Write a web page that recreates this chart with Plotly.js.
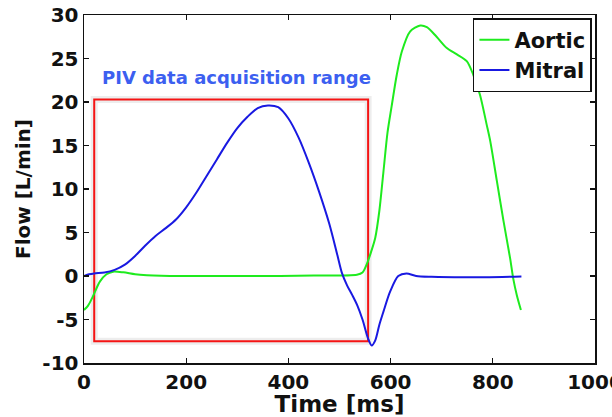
<!DOCTYPE html>
<html>
<head>
<meta charset="utf-8">
<script src="https://cdn.plot.ly/plotly-3.0.1.min.js"></script>
<style>html,body{margin:0;padding:0;background:#fff;}</style>
</head>
<body>
<div id="chart" style="width:612px;height:417px;"></div>
<script>
// Aortic flow (green)
const aorticTime = [0, 8, 17, 31, 44, 57, 77, 100, 123, 188, 300, 384, 450, 534, 545, 553, 562, 570, 578, 586, 594, 602, 612, 622, 638, 658, 671, 690, 710, 729, 749, 762, 775, 788, 795, 808, 821, 834, 840, 847, 855];
const aorticFlow = [-3.9, -3.4, -2.4, -0.65, 0.2, 0.5, 0.42, 0.2, 0.1, 0.0, 0.0, 0.0, 0.05, 0.15, 0.4, 1.3, 2.8, 4.4, 7.5, 12.0, 16.5, 19.5, 23.1, 25.8, 28.1, 28.8, 28.6, 27.5, 26.2, 25.5, 24.7, 23.1, 20.8, 17.4, 15.5, 10.9, 6.3, 2.0, -0.3, -2.2, -3.9];

// Mitral flow (blue)
const mitralTime = [0, 10, 20, 40, 60, 80, 100, 120, 140, 160, 180, 200, 220, 240, 260, 280, 300, 320, 340, 360, 380, 400, 420, 440, 460, 480, 495, 505, 515, 525, 535, 545, 556, 563, 570, 578, 586, 599, 615, 631, 650, 680, 750, 856];
const mitralFlow = [0.0, 0.2, 0.3, 0.4, 0.7, 1.3, 2.3, 3.5, 4.6, 5.5, 6.5, 7.9, 9.6, 11.5, 13.4, 15.3, 17.0, 18.3, 19.3, 19.6, 19.4, 18.1, 15.9, 13.0, 9.7, 6.0, 2.6, 0.3, -1.1, -2.2, -3.4, -5.0, -7.2, -8.0, -7.4, -5.6, -4.1, -1.8, 0.0, 0.3, 0.0, -0.1, -0.15, -0.05];

// PIV acquisition range box
const pivRangeTime = [20, 556];
const pivRangeFlow = [-7.5, 20.3];
const pivLabel = "PIV data acquisition range";

const xTicks = [0, 200, 400, 600, 800, 1000];
const yTicks = [-10, -5, 0, 5, 10, 15, 20, 25, 30];

const traces = [
  {x: aorticTime, y: aorticFlow, name: "Aortic", mode: "lines",
   line: {color: "rgb(30,235,30)", width: 2, shape: "spline", smoothing: 0.8}},
  {x: mitralTime, y: mitralFlow, name: "Mitral", mode: "lines",
   line: {color: "rgb(25,25,225)", width: 2, shape: "spline", smoothing: 0.8}}
];

const tickFont = {family: "DejaVu Sans", size: 20, color: "#111", weight: "bold"};

const layout = {
  width: 612, height: 417,
  margin: {l: 84, r: 17, t: 15, b: 54},
  paper_bgcolor: "#fff", plot_bgcolor: "#fff",
  showlegend: true,
  legend: {
    x: 0.994, y: 0.991, xanchor: "right", yanchor: "top",
    bgcolor: "#fff", bordercolor: "#111", borderwidth: 1.5,
    font: {family: "DejaVu Sans", size: 21, color: "#111", weight: "bold"},
    itemwidth: 30, tracegroupgap: 0
  },
  xaxis: {
    range: [0, 1000], tickvals: xTicks, ticktext: xTicks.map(String),
    ticks: "inside", ticklen: 5, tickwidth: 1.2, tickcolor: "#111",
    showline: true, linecolor: "#111", linewidth: 1.5, mirror: "ticks",
    showgrid: false, zeroline: false, ticklabeloverflow: "allow",
    tickfont: tickFont, automargin: false,
    title: {text: "Time [ms]", font: {family: "DejaVu Sans", size: 23, color: "#111", weight: "bold"}, standoff: 0}
  },
  yaxis: {
    range: [-10, 30], tickvals: yTicks, ticktext: yTicks.map(String),
    ticks: "inside", ticklen: 5, tickwidth: 1.2, tickcolor: "#111",
    showline: true, linecolor: "#111", linewidth: 1.5, mirror: "ticks",
    showgrid: false, zeroline: false, ticklabeloverflow: "allow",
    tickfont: tickFont, automargin: false,
    title: {text: "Flow [L/min]", font: {family: "DejaVu Sans", size: 20, color: "#111", weight: "bold"}, standoff: 6}
  },
  shapes: [
    {type: "rect", xref: "x", yref: "y",
     x0: pivRangeTime[0], x1: pivRangeTime[1], y0: pivRangeFlow[0], y1: pivRangeFlow[1],
     line: {color: "rgba(0,0,0,0.07)", width: 7}, layer: "below"},
    {type: "rect", xref: "x", yref: "y",
     x0: pivRangeTime[0], x1: pivRangeTime[1], y0: pivRangeFlow[0], y1: pivRangeFlow[1],
     line: {color: "rgb(245,20,20)", width: 2}, layer: "below"}
  ],
  annotations: [
    {x: 298, y: 22.8, xref: "x", yref: "y", text: pivLabel, showarrow: false,
     font: {family: "DejaVu Sans", size: 18, color: "rgb(60,95,240)", weight: "bold"}}
  ]
};

Plotly.newPlot("chart", traces, layout, {displayModeBar: false, staticPlot: true});
</script>
</body>
</html>
